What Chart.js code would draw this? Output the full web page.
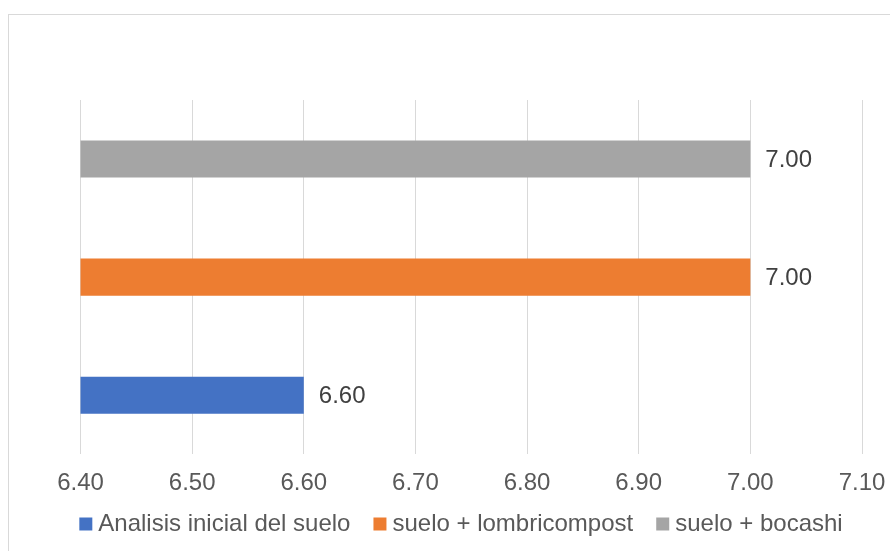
<!DOCTYPE html>
<html>
<head>
<meta charset="utf-8">
<script src="https://cdn.jsdelivr.net/npm/chart.js@4.4.1/dist/chart.umd.min.js"></script>
<style>
  html, body { margin: 0; padding: 0; background: #fff; overflow: hidden; }
  #frame { position: absolute; left: 8px; top: 14px; width: 1000px; height: 1000px; border: 1px solid #d9d9d9; }
  #wrap { position: absolute; left: 0; top: 0; width: 890px; height: 551px; }
</style>
</head>
<body>
<div id="frame"></div>
<div id="wrap"><canvas id="chart" width="890" height="551"></canvas></div>
<script>
// chart data (datasets listed top bar first, legend is shown reversed)
const categories = ['pH'];
const seriesNames = ['suelo + bocashi', 'suelo + lombricompost', 'Analisis inicial del suelo'];
const seriesValues = [7.00, 7.00, 6.60];
const seriesColors = ['#A5A5A5', '#ED7D31', '#4472C4'];
const axisMin = 6.40;
const axisMax = 7.10;
const axisStep = 0.10;

const FONT = '"Liberation Sans", Arial, sans-serif';

// draws the value next to the end of each bar
const valueLabels = {
    id: 'valueLabels',
    afterDatasetsDraw(chart) {
        const ctx = chart.ctx;
        ctx.save();
        ctx.font = '24px ' + FONT;
        ctx.fillStyle = '#404040';
        ctx.textAlign = 'left';
        ctx.textBaseline = 'middle';
        chart.data.datasets.forEach((ds, i) => {
            chart.getDatasetMeta(i).data.forEach((bar, j) => {
                ctx.fillText(ds.data[j].toFixed(2), bar.x + 15, bar.y + 1);
            });
        });
        ctx.restore();
    }
};

// the legend label padding is wide (for horizontal spacing), so make the
// legend box shorter and pull it up closer to the axis labels
const legendTighten = {
    id: 'legendTighten',
    beforeLayout(chart) {
        const lg = chart.legend;
        if (lg && !lg._tight) {
            const fit = lg.fit;
            lg.fit = function () { fit.call(this); this.height -= 35; };
            lg._tight = true;
        }
    },
    afterLayout(chart) {
        const lg = chart.legend;
        if (lg) {
            lg.top -= 30;
            lg.bottom += 60;
            lg.height = lg.bottom - lg.top;
        }
    }
};

new Chart(document.getElementById('chart'), {
    type: 'bar',
    data: {
        labels: categories,
        datasets: seriesNames.map((name, i) => ({
            label: name,
            data: [seriesValues[i]],
            backgroundColor: seriesColors[i],
            borderWidth: 0,
            categoryPercentage: 1.0,
            barPercentage: 0.314
        }))
    },
    options: {
        indexAxis: 'y',
        responsive: false,
        animation: false,
        layout: { padding: { left: 38, right: 0, top: 100, bottom: 10 } },
        plugins: {
            tooltip: { enabled: false },
            legend: {
                position: 'bottom',
                reverse: true,
                labels: {
                    font: { family: FONT, size: 24 },
                    color: '#595959',
                    usePointStyle: true,
                    pointStyle: 'rect',
                    boxWidth: 1,
                    boxHeight: 13,
                    padding: 29
                }
            }
        },
        scales: {
            x: {
                min: axisMin,
                max: axisMax,
                ticks: {
                    stepSize: axisStep,
                    font: { family: FONT, size: 24 },
                    color: '#595959',
                    padding: 15,
                    callback: v => Number(v).toFixed(2)
                },
                grid: { color: '#d9d9d9', lineWidth: 1, drawTicks: false },
                border: { display: false },
                afterFit: scale => {
                    scale.paddingRight = 28;
                    scale.paddingLeft = 0;
                }
            },
            y: {
                ticks: { display: false },
                grid: { display: false },
                border: { display: false },
                afterFit: scale => { scale.width = 42.5; }
            }
        }
    },
    plugins: [valueLabels, legendTighten]
});
</script>
</body>
</html>
